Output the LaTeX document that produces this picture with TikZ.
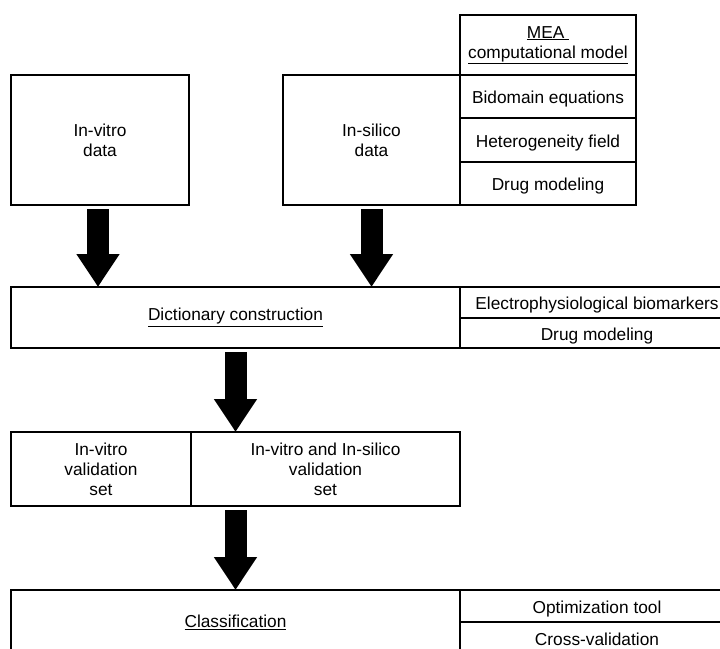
\documentclass[tikz,border=0pt]{standalone}
\usepackage{fontspec}
\setmainfont{Liberation Sans}
\usetikzlibrary{arrows.meta,positioning}

\begin{document}
\begin{tikzpicture}[x=1pt,y=-1pt,
  font=\fontsize{17.3}{20}\selectfont, node distance=0pt,
  bx/.style={draw,line width=2pt,outer sep=0pt,inner sep=0pt,align=center},
  one/.style={text height=14pt,text depth=0pt},
  cell/.style={bx,minimum width=176pt},
  side/.style={bx,one,minimum width=274pt},
  blk/.style={-{Triangle[length=33pt,width=41pt]},line width=22pt,shorten <=4pt}]
\useasboundingbox (0,0) rectangle (720,648);
\clip (0,0) rectangle (720,648);
% data sources
\node[bx,minimum width=178pt,minimum height=130pt,anchor=north west] (vitro) at (11,75) {In-vitro\\data};
\node[bx,minimum width=177pt,minimum height=130pt,right=94pt of vitro] (silico) {In-silico\\data};
\node[cell,one,minimum height=43pt,anchor=north west] (bido) at (silico.north east) {Bidomain equations};
\node[cell,one,minimum height=44pt,below=of bido] (hetero) {Heterogeneity field};
\node[cell,one,minimum height=43pt,below=of hetero] (drugmod) {Drug modeling};
\node[cell,minimum height=60pt,above=of bido] (mea) {\underline{MEA~}\\\underline{computational model}};
% dictionary
\node[bx,minimum width=449pt,minimum height=61pt,below right=82pt and 0pt of vitro.south west] (dict) {\underline{Dictionary construction}};
\node[side,minimum height=31pt,anchor=north west] (ephys) at (dict.north east) {Electrophysiological biomarkers};
\node[side,minimum height=30pt,below=of ephys] (dictdrug) {Drug modeling};
% validation sets
\node[bx,minimum width=180pt,minimum height=74pt,below right=84pt and 0pt of dict.south west] (valvitro) {In-vitro\\validation\\set};
\node[bx,minimum width=269pt,minimum height=74pt,right=of valvitro] (valboth) {In-vitro and In-silico\\validation\\set};
% classification
\node[bx,minimum width=449pt,minimum height=64pt,below right=84pt and 0pt of valvitro.south west] (classif) {\underline{Classification}};
\node[side,minimum height=32pt,anchor=north west] (optim) at (classif.north east) {Optimization tool};
\node[side,minimum height=32pt,below=of optim] (crossval) {Cross-validation};
% arrows
\coordinate (vout) at ([xshift=-2pt]vitro.south);
\draw[blk] (vout) -- (dict.north -| vout);
\draw[blk] (silico.south) -- (dict.north -| silico.south);
\draw[blk] (dict.south) -- (dict.south |- valboth.north);
\draw[blk] (classif.north |- valboth.south) -- (classif.north);
\end{tikzpicture}
\end{document}
